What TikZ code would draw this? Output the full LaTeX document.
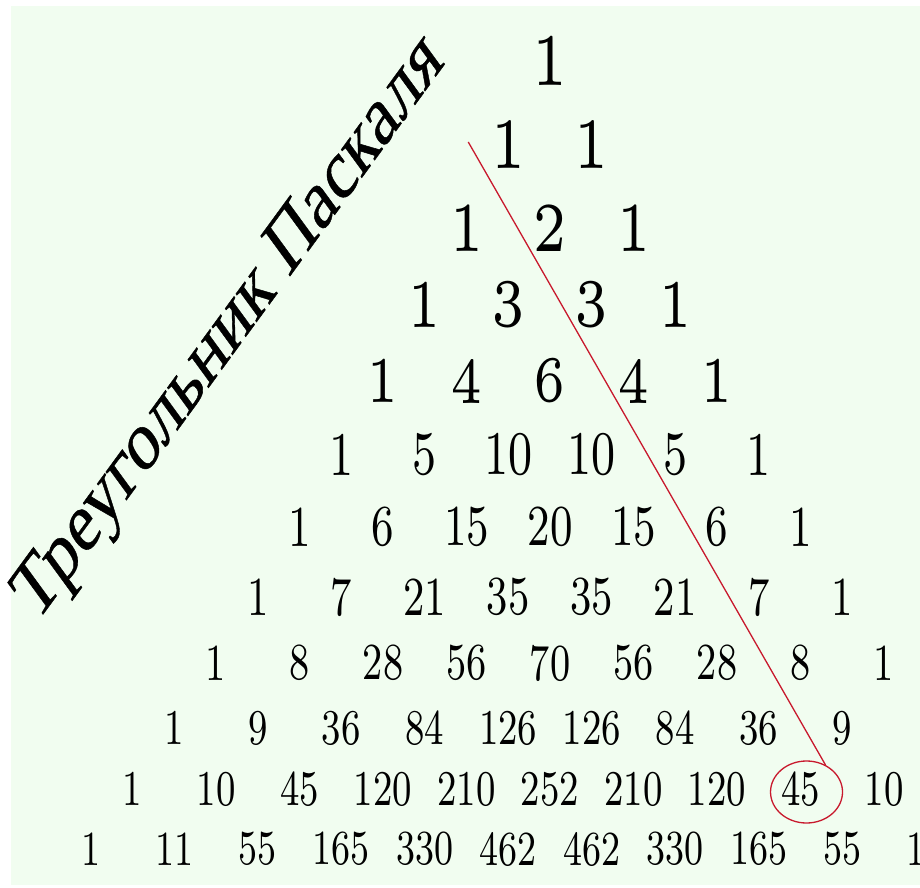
\documentclass[tikz,border=0pt]{standalone}
\usepackage{fontspec}
\newfontfamily\titlefont{Liberation Serif}[FakeBold=0.6]
\newfontfamily\numfontA{lmroman5-regular.otf}
\newfontfamily\numfontB{lmroman8-regular.otf}
\definecolor{pascalBg}{RGB}{241,253,240}
\definecolor{pascalRed}{RGB}{200,25,45}
\usetikzlibrary{shapes.geometric}

\begin{document}
\begin{tikzpicture}[x=1pt, y=1pt,
    num/.style={inner sep=0pt, text=black},
    title/.style={font=\titlefont\fontsize{87}{87}\selectfont, inner sep=0pt},
    hl/.style={ellipse, draw=pascalRed, line width=1.3pt, minimum width=72pt,
               minimum height=62pt, inner sep=0pt},
    guide/.style={draw=pascalRed, line width=1.3pt}
  ]
  \useasboundingbox (0,0) rectangle (920,887);
  \clip (0,0) rectangle (920,887);
  \fill[pascalBg] (11,2) rectangle (920,881);

  % rows are squashed sideways like the scanned original
  \begin{scope}[xscale=0.73, every node/.append style={transform shape}]
    \foreach \r/\yy/\fs/\ff/\vals in {
        0/826/74/\numfontA/{1},
        1/742/72/\numfontA/{1,1},
        2/659/70/\numfontA/{1,2,1},
        3/582/68/\numfontA/{1,3,3,1},
        4/506/65/\numfontA/{1,4,6,4,1},
        5/432/62/\numfontB/{1,5,10,10,5,1},
        6/360/58/\numfontB/{1,6,15,20,15,6,1},
        7/290/55/\numfontB/{1,7,21,35,35,21,7,1},
        8/224/52/\numfontB/{1,8,28,56,70,56,28,8,1},
        9/159/50/\numfontB/{1,9,36,84,126,126,84,36,9},
        10/98/50/\numfontB/{1,10,45,120,210,252,210,120,45,10},
        11/38/49/\numfontB/{1,11,55,165,330,462,462,330,165,55,11}} {
      \foreach \v [count=\k from 0] in \vals
        \node[num, font=\ff\fontsize{\fs}{\fs}\selectfont] (n\r-\k)
          at ({(550+(\k-\r/2)*83.5)/0.73}, \yy) {\v};
    }
    \node[title, rotate=45] (ttl) at ({231/0.73}, 557) {Треугольник Паскаля};
  \end{scope}

  \node[hl] (hl) at ([xshift=6pt, yshift=-3pt]n10-8) {};
  \coordinate (start) at ([xshift=-40pt, yshift=3pt]n1-0);
  \draw[guide] (start) -- (hl.55);
\end{tikzpicture}
\end{document}
